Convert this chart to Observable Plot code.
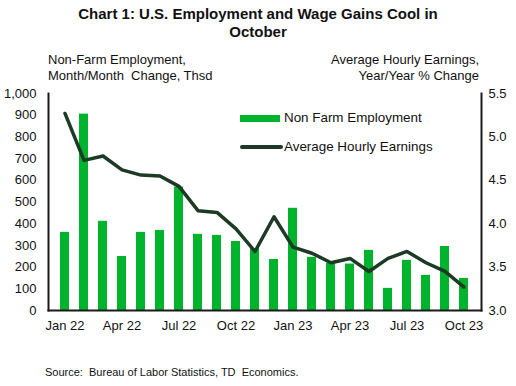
<!DOCTYPE html>
<html>
<head>
<meta charset="utf-8">
<script src="https://cdn.jsdelivr.net/npm/d3@7"></script>
<script src="https://cdn.jsdelivr.net/npm/@observablehq/plot@0.6"></script>
<style>
  html, body { margin: 0; padding: 0; background: #fff; }
  #wrap { position: relative; width: 516px; height: 386px; font-family: "Liberation Sans", Arial, sans-serif; color: #111; overflow: hidden; }
  .abs { position: absolute; white-space: nowrap; }
  #title { left: 0; width: 516px; top: 5px; text-align: center; font-weight: bold; font-size: 15px; line-height: 18px; }
  .atitle { font-size: 13px; line-height: 16px; }
  #chart { position: absolute; left: 0; top: 80px; }
  .sw { position: absolute; }
  .lg { font-size: 13.4px; line-height: 16px; }
  #source { left: 45px; top: 366px; font-size: 11px; }
</style>
</head>
<body>
<div id="wrap">
  <div id="title" class="abs">Chart 1: U.S. Employment and Wage Gains Cool in<br>October</div>
  <div class="abs atitle" style="left:48px; top:52px;">Non-Farm Employment,<br>Month/Month&nbsp; Change, Thsd</div>
  <div class="abs atitle" style="right:37px; top:52px; text-align:right;">Average Hourly Earnings,<br>Year/Year % Change</div>
  <div id="chart"></div>
  <div class="sw" style="left:240px; top:115px; width:40px; height:7px; background:#00b32c;"></div>
  <div class="abs lg" style="left:284px; top:110px;">Non Farm Employment</div>
  <div class="sw" style="left:240px; top:145px; width:43px; height:4px; background:#1c3a24; border-radius:2px;"></div>
  <div class="abs lg" style="left:284px; top:139px;">Average Hourly Earnings</div>
  <div id="source" class="abs">Source:&nbsp; Bureau of Labor Statistics, TD&nbsp; Economics.</div>
</div>
<script>
const months = ["Jan 22","Feb 22","Mar 22","Apr 22","May 22","Jun 22","Jul 22","Aug 22","Sep 22","Oct 22","Nov 22","Dec 22",
                "Jan 23","Feb 23","Mar 23","Apr 23","May 23","Jun 23","Jul 23","Aug 23","Sep 23","Oct 23"];
const nonFarm = [360, 905, 411, 249, 360, 369, 569, 351, 346, 318, 285, 235,
                 471, 245, 218, 214, 277, 102, 231, 162, 295, 148];
const ahe = [5.27, 4.73, 4.78, 4.62, 4.56, 4.55, 4.43, 4.15, 4.13, 3.94, 3.68, 4.08,
             3.73, 3.66, 3.55, 3.60, 3.45, 3.60, 3.68, 3.55, 3.45, 3.27];
const xTickLabels = ["Jan 22","Apr 22","Jul 22","Oct 22","Jan 23","Apr 23","Jul 23","Oct 23"];
const leftTicks = [0,100,200,300,400,500,600,700,800,900,1000];
const rightTicks = [3.0, 3.5, 4.0, 4.5, 5.0, 5.5];

// right axis mapped onto left scale: 3.0 -> 0, 5.5 -> 1000
const toLeft = v => (v - 3) * 400;
const fromLeft = v => v / 400 + 3;

const barData = months.map((m, i) => ({month: m, value: nonFarm[i]}));
const lineData = months.map((m, i) => ({month: m, value: toLeft(ahe[i])}));

const chart = Plot.plot({
  width: 516,
  height: 260,
  marginLeft: 48,
  marginRight: 35,
  marginTop: 13,
  marginBottom: 30,
  style: {fontFamily: "'Liberation Sans', Arial, sans-serif", fontSize: "13px", color: "#111", background: "transparent", overflow: "visible"},
  x: {type: "band", domain: months, paddingInner: 0.52, paddingOuter: 0.26},
  y: {domain: [0, 1000]},
  marks: [
    Plot.barY(barData, {x: "month", y: "value", fill: "#00b32c"}),
    Plot.lineY(lineData, {x: "month", y: "value", stroke: "#1c3a24", strokeWidth: 3.5, strokeLinejoin: "round", strokeLinecap: "round"}),
    Plot.axisY({anchor: "left", ticks: leftTicks, tickSize: 0, tickPadding: 12, tickFormat: d3.format(","), label: null, fontSize: 13}),
    Plot.axisY({anchor: "right", ticks: rightTicks.map(toLeft), tickSize: 0, tickPadding: 7, tickFormat: d => fromLeft(d).toFixed(1), label: null, fontSize: 13}),
    Plot.axisX({ticks: xTickLabels, tickSize: 0, tickPadding: 10, label: null, fontSize: 13}),
    Plot.frame({anchor: "left", stroke: "#1a1a1a", strokeWidth: 2}),
    Plot.frame({anchor: "right", stroke: "#1a1a1a", strokeWidth: 2}),
    Plot.frame({anchor: "bottom", stroke: "#1a1a1a", strokeWidth: 2})
  ]
});
document.getElementById("chart").appendChild(chart);
</script>
</body>
</html>
